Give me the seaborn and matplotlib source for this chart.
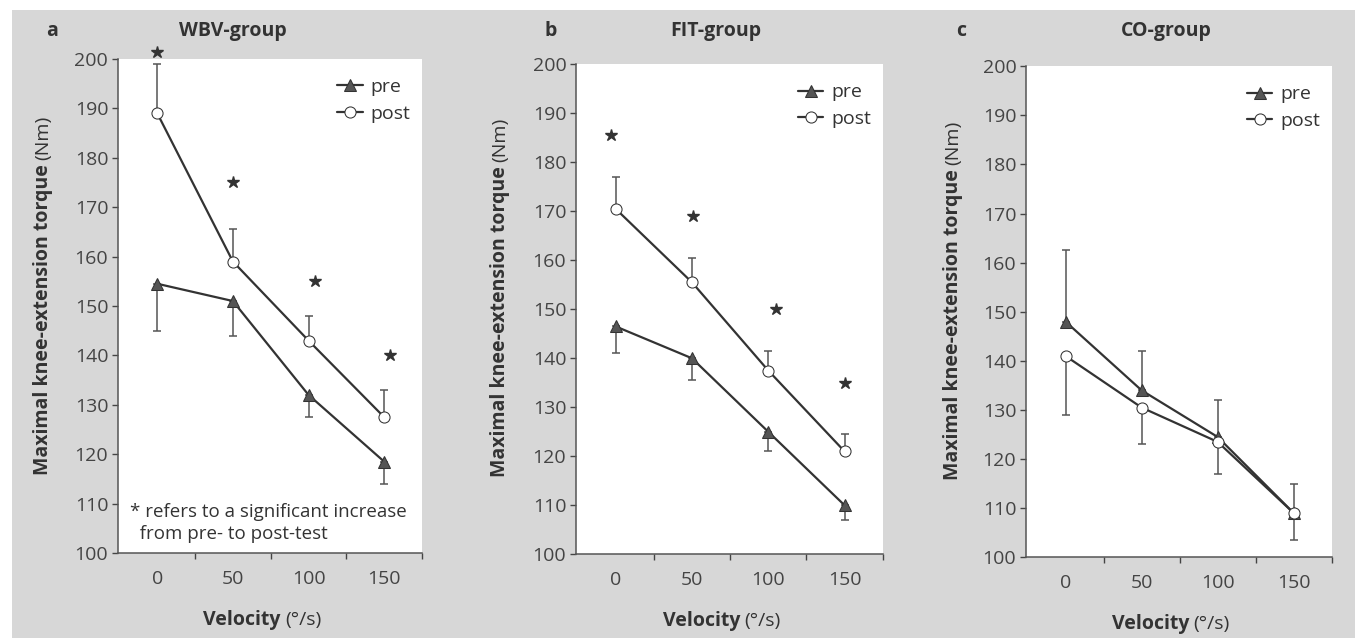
import numpy as np
import pandas as pd
import matplotlib
import matplotlib.pyplot as plt
import seaborn as sns
from matplotlib.patches import Rectangle

matplotlib.use('Agg')

velocity = [0, 50, 100, 150]
panels = ["a", "b", "c"]
groups = ["WBV-group", "FIT-group", "CO-group"]

# means (Nm)
wbv_pre = [154.5, 151, 132, 118.5]
wbv_post = [189, 159, 143, 127.5]
fit_pre = [146.5, 140, 125, 110]
fit_post = [170.5, 155.5, 137.5, 121]
co_pre = [148, 134, 124.5, 109]
co_post = [141, 130.5, 123.5, 109]

# one-sided error bar ends
wbv_pre_err = [145, 144, 127.5, 114]
wbv_post_err = [199, 165.5, 148, 133]
fit_pre_err = [141, 135.5, 121, 107]
fit_post_err = [177, 160.5, 141.5, 124.5]
co_pre_err = [162.5, 142, 132, 115]
co_post_err = [129, 123, 117, 103.5]

# significance stars (x, y)
wbv_star_x = [0, 50, 104, 154]
wbv_star_y = [201.5, 175, 155, 140]
fit_star_x = [-3, 51, 105, 150]
fit_star_y = [185.5, 169, 150, 135]

note = "* refers to a significant increase\n  from pre- to post-test"

pre_all = [wbv_pre, fit_pre, co_pre]
post_all = [wbv_post, fit_post, co_post]
pre_err_all = [wbv_pre_err, fit_pre_err, co_pre_err]
post_err_all = [wbv_post_err, fit_post_err, co_post_err]
stars_all = [(wbv_star_x, wbv_star_y), (fit_star_x, fit_star_y), None]

sns.set_theme(style="ticks")
plt.rcParams['font.family'] = ['Open Sans', 'DejaVu Sans']
ink = "#333333"
plt.rcParams['text.color'] = ink
plt.rcParams['axes.labelcolor'] = ink
plt.rcParams['xtick.color'] = "#444444"
plt.rcParams['ytick.color'] = "#444444"

fig = plt.figure(figsize=(13.62, 6.41), dpi=100)
fig.patch.set_facecolor("white")
fig.patches.append(Rectangle((12 / 1362, 3 / 641), 1343 / 1362, 628 / 641,
                             transform=fig.transFigure, facecolor="#d7d7d7",
                             edgecolor="none", zorder=-5))

# axes boxes [left, bottom, width, height] in figure fraction
boxes = [
    [0.0866, 0.1373, 0.2232, 0.7707],
    [0.4229, 0.1353, 0.2252, 0.7644],
    [0.7533, 0.1306, 0.2245, 0.7660],
]
title_x = [233, 716, 1166]
letter_x = [52, 551, 961]
ylab_x = [-0.247, -0.248, -0.239]

for i in range(3):
    ax = fig.add_axes(boxes[i])
    ax.set_facecolor("white")
    df = pd.DataFrame({
        "velocity": velocity * 2,
        "torque": pre_all[i] + post_all[i],
        "test": ["pre"] * 4 + ["post"] * 4,
    })
    # error bars, one-sided
    for vals, ends in [(pre_all[i], pre_err_all[i]), (post_all[i], post_err_all[i])]:
        v = np.array(vals)
        e = np.array(ends)
        lo = np.where(e < v, v - e, 0)
        hi = np.where(e > v, e - v, 0)
        ax.errorbar(velocity, v, yerr=[lo, hi], fmt="none", ecolor="#555555",
                    elinewidth=1.1, capsize=3, capthick=1.1, zorder=2)
    sns.lineplot(data=df[df.test == "pre"], x="velocity", y="torque", ax=ax,
                 color=ink, marker="^", markersize=8, markerfacecolor="#555555",
                 markeredgecolor=ink, linewidth=1.6, label="pre", zorder=3)
    sns.lineplot(data=df[df.test == "post"], x="velocity", y="torque", ax=ax,
                 color=ink, marker="o", markersize=8, markerfacecolor="white",
                 markeredgecolor=ink, linewidth=1.6, label="post", zorder=4)

    ax.set_xlim(-26, 175)
    ax.set_ylim(100, 200)
    ax.set_yticks(range(100, 201, 10))
    ax.set_xticks(velocity)
    ax.set_xticks([25, 75, 125, 175], minor=True)
    ax.tick_params(axis="x", which="major", length=0, pad=12, labelsize=14)
    ax.tick_params(axis="x", which="minor", length=4, direction="out", width=1)
    ax.tick_params(axis="y", length=4, direction="out", width=1, pad=3, labelsize=14)
    sns.despine(ax=ax)
    for s in ["left", "bottom"]:
        ax.spines[s].set_color("#555555")
        ax.spines[s].set_linewidth(1.1)
    ax.set_xlabel("")
    ax.set_ylabel("")

    stars = stars_all[i]
    if stars is not None:
        ax.plot(stars[0], stars[1], linestyle="none", marker="*", markersize=9,
                color="#333333", clip_on=False)
    if i == 0:
        ax.text(-18, 106, note, ha="left", va="center", fontsize=13.5,
                linespacing=1.3)

    ax.legend(loc="upper right", frameon=False, handlelength=1.3,
              handletextpad=0.4, labelspacing=0.45, fontsize=14,
              borderaxespad=0.2, bbox_to_anchor=(1.0, 0.985))

    yl = ax.text(ylab_x[i], 0.158, "Maximal knee-extension torque", transform=ax.transAxes,
                 rotation=90, ha="center", va="bottom", fontsize=14, fontweight="bold")
    ax.annotate("(Nm)", xy=(0.5, 1), xycoords=yl, xytext=(0, 3),
                textcoords="offset points", rotation=90, ha="center", va="bottom",
                fontsize=14)
    xl = ax.text(0.535, -0.136, "Velocity", transform=ax.transAxes,
                 ha="right", va="center", fontsize=14, fontweight="bold")
    ax.annotate("(°/s)", xy=(1, 0.5), xycoords=xl, xytext=(3, 0),
                textcoords="offset points", ha="left", va="center", fontsize=14)

    fig.text(letter_x[i] / 1362, 1 - 31 / 641, panels[i], ha="center",
             va="center", fontsize=14, fontweight="bold")
    fig.text(title_x[i] / 1362, 1 - 31 / 641, groups[i], ha="center",
             va="center", fontsize=14, fontweight="bold")

fig.savefig("out.png", dpi=100)
